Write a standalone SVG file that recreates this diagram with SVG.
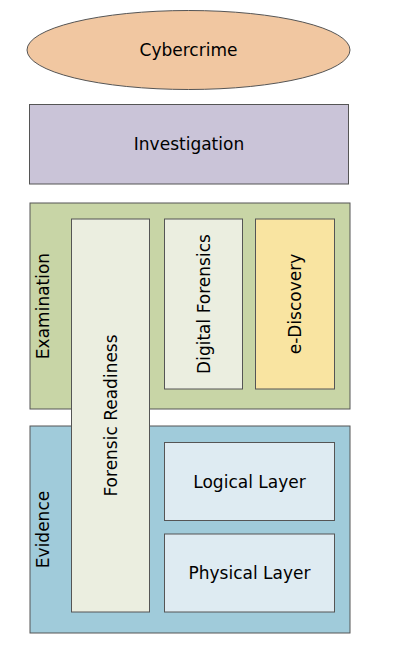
<svg xmlns="http://www.w3.org/2000/svg" width="414" height="660" viewBox="0 0 414 660">
<style>
text{font-family:"DejaVu Sans","Verdana",sans-serif;font-size:17px;fill:#000;text-anchor:middle;dominant-baseline:central}
.s{stroke:#555;stroke-width:1}
</style>
<rect width="414" height="660" fill="#fff"/>
<g id="cybercrime"><ellipse class="s" cx="188.5" cy="50" rx="161.5" ry="39.5" fill="#F1C7A1"/><text x="188.5" y="50">Cybercrime</text></g>
<g id="investigation"><rect class="s" x="29.5" y="104.5" width="319" height="79.5" fill="#CAC4D8"/><text x="189" y="144">Investigation</text></g>
<g id="examination"><rect class="s" x="30" y="203" width="320" height="206" fill="#C8D5A6"/><text transform="translate(43,306) rotate(-90)">Examination</text></g>
<g id="evidence"><rect class="s" x="30" y="426" width="320" height="207" fill="#A0CBDA"/><text transform="translate(43,529.5) rotate(-90)">Evidence</text></g>
<g id="forensic-readiness"><rect class="s" x="71.5" y="219" width="78" height="393" fill="#EBEEE0"/><text transform="translate(110.5,415.5) rotate(-90)">Forensic Readiness</text></g>
<g id="digital-forensics"><rect class="s" x="164.5" y="219" width="78" height="170" fill="#EBEEE0"/><text transform="translate(203.5,304) rotate(-90)">Digital Forensics</text></g>
<g id="e-discovery"><rect class="s" x="255.5" y="219" width="79" height="170" fill="#F9E4A1"/><text transform="translate(295,304) rotate(-90)">e-Discovery</text></g>
<g id="logical-layer"><rect class="s" x="164.5" y="442.5" width="170" height="78" fill="#DEEBF2"/><text x="249.5" y="481.5">Logical Layer</text></g>
<g id="physical-layer"><rect class="s" x="164.5" y="534" width="170" height="78" fill="#DEEBF2"/><text x="249.5" y="573">Physical Layer</text></g>
<g id="connectors"/>
</svg>
